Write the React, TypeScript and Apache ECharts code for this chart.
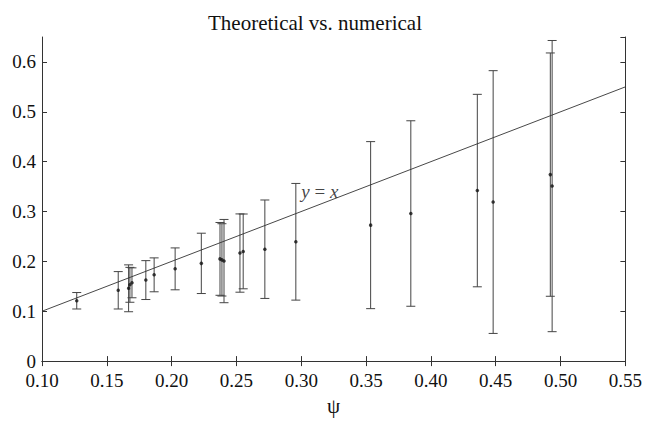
import React, { useEffect, useRef } from "react";
import * as echarts from "echarts";

const psi = [0.1268, 0.1588, 0.1668, 0.1678, 0.1694, 0.1801, 0.1865, 0.2027, 0.2229, 0.2373, 0.2388, 0.2404, 0.2527, 0.2552, 0.2719, 0.2958, 0.3535, 0.3845, 0.4358, 0.448, 0.4921, 0.4935];
const numerical = [0.121, 0.142, 0.146, 0.153, 0.157, 0.1625, 0.173, 0.185, 0.196, 0.205, 0.203, 0.2006, 0.2167, 0.22, 0.2244, 0.2393, 0.2727, 0.296, 0.342, 0.319, 0.374, 0.351];
const errors = [0.0165, 0.0375, 0.047, 0.035, 0.03, 0.039, 0.034, 0.042, 0.0605, 0.073, 0.0725, 0.0835, 0.0785, 0.075, 0.0987, 0.117, 0.1675, 0.186, 0.193, 0.2635, 0.244, 0.292];
const identityLine = [[0.1, 0.1], [0.55, 0.55]];
const annotation = { x: 0.3, y: 0.341, text: "y = x" };
const xTicks = { min: 0.1, max: 0.55, step: 0.05 };
const yTicks = { min: 0, max: 0.65, step: 0.1 };
const titleText = "Theoretical vs. numerical";
const xName = "ψ";

const FONT = "'Liberation Serif', 'DejaVu Serif', serif";
const AXIS = "#333";

export default function App() {
  const ref = useRef<HTMLDivElement>(null);
  useEffect(() => {
    if (!ref.current) return;
    const chart = echarts.init(ref.current, null, { renderer: "svg" });
    const errData = psi.map((x, i) => [x, numerical[i] - errors[i], numerical[i] + errors[i]]);
    const ptData = psi.map((x, i) => [x, numerical[i]]);
    const tickStyle = { show: true, inside: true, length: 5, lineStyle: { color: AXIS, width: 1 } };
    const lineStyle = { show: true, lineStyle: { color: AXIS, width: 1 } };
    chart.setOption({
      animation: false,
      backgroundColor: "#fff",
      textStyle: { fontFamily: FONT },
      graphic: [
        {
          type: "text",
          x: 315,
          y: 22.5,
          style: {
            text: titleText,
            fontFamily: FONT,
            fontSize: 21,
            fill: "#111",
            textAlign: "center",
            textVerticalAlign: "middle",
          },
        },
      ],
      grid: { left: 42, top: 37, right: 17, bottom: 47, containLabel: false },
      xAxis: [
        {
          type: "value",
          min: xTicks.min,
          max: xTicks.max,
          interval: xTicks.step,
          axisLine: lineStyle,
          axisTick: tickStyle,
          splitLine: { show: false },
          axisLabel: {
            color: "#111",
            fontFamily: FONT,
            fontSize: 19,
            margin: 10,
            formatter: (v: number) => v.toFixed(2),
          },
          name: xName,
          nameLocation: "middle",
          nameGap: 28,
          nameTextStyle: { color: "#111", fontFamily: FONT, fontSize: 21 },
        },
        {
          type: "value",
          position: "top",
          min: xTicks.min,
          max: xTicks.max,
          interval: xTicks.step,
          axisLine: lineStyle,
          axisTick: tickStyle,
          axisLabel: { show: false },
          splitLine: { show: false },
        },
      ],
      yAxis: [
        {
          type: "value",
          min: yTicks.min,
          max: yTicks.max,
          interval: yTicks.step,
          axisLine: lineStyle,
          axisTick: tickStyle,
          splitLine: { show: false },
          axisLabel: {
            color: "#111",
            fontFamily: FONT,
            fontSize: 19,
            margin: 6,
            showMaxLabel: false,
            formatter: (v: number) => (v === 0 ? "0" : v.toFixed(1)),
          },
        },
        {
          type: "value",
          position: "right",
          min: yTicks.min,
          max: yTicks.max,
          interval: yTicks.step,
          axisLine: lineStyle,
          axisTick: tickStyle,
          axisLabel: { show: false },
          splitLine: { show: false },
        },
      ],
      series: [
        {
          type: "line",
          data: identityLine,
          symbol: "none",
          lineStyle: { color: "#333", width: 0.9 },
          silent: true,
        },
        {
          type: "custom",
          data: errData,
          renderItem: (params: any, api: any) => {
            const x = api.value(0);
            const lo = api.coord([x, api.value(1)]);
            const hi = api.coord([x, api.value(2)]);
            const hw = 4.5;
            const st = { stroke: "#444", lineWidth: 1 };
            return {
              type: "group",
              children: [
                { type: "line", shape: { x1: lo[0], y1: lo[1], x2: hi[0], y2: hi[1] }, style: st },
                { type: "line", shape: { x1: lo[0] - hw, y1: lo[1], x2: lo[0] + hw, y2: lo[1] }, style: st },
                { type: "line", shape: { x1: hi[0] - hw, y1: hi[1], x2: hi[0] + hw, y2: hi[1] }, style: st },
              ],
            };
          },
          silent: true,
        },
        {
          type: "scatter",
          data: ptData,
          symbol: "circle",
          symbolSize: 3.5,
          itemStyle: { color: "#111" },
          silent: true,
        },
        {
          type: "scatter",
          data: [[annotation.x, annotation.y]],
          symbolSize: 0,
          silent: true,
          label: {
            show: true,
            position: "right",
            distance: 0,
            formatter: "{i|y} = {i|x}",
            color: "#111",
            fontFamily: FONT,
            fontSize: 19,
            rich: { i: { fontStyle: "italic", fontFamily: FONT, fontSize: 19, color: "#111" } },
          },
        },
      ],
    });
    return () => chart.dispose();
  }, []);
  return <div ref={ref} style={{ position: "fixed", left: 0, top: 0, width: 645, height: 421 }} />;
}
